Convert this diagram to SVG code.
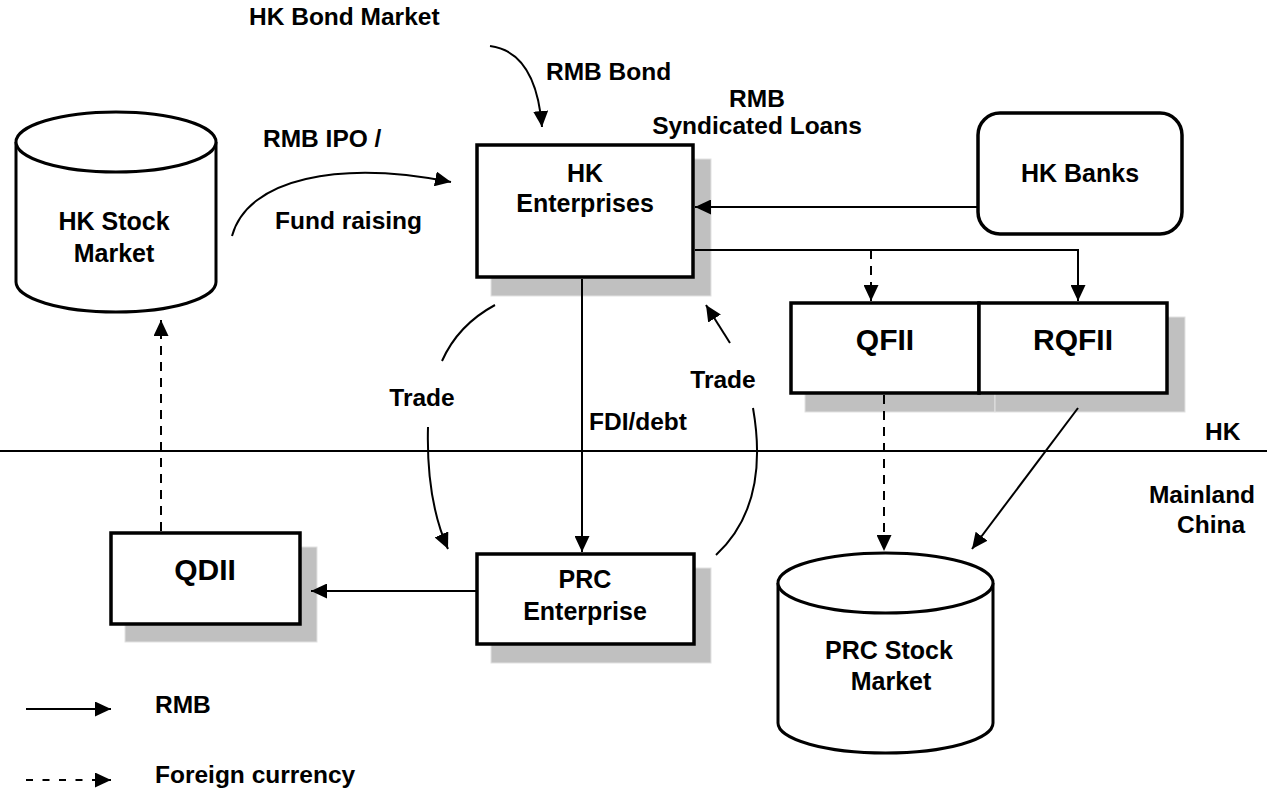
<svg xmlns="http://www.w3.org/2000/svg" width="1267" height="792" viewBox="0 0 1267 792">
<style>
text{font-family:"Liberation Sans",Arial,sans-serif;font-weight:bold;fill:#000}
.lb{font-size:24.5px}
.nl{font-size:25px;text-anchor:middle}
.big{font-size:30px;text-anchor:middle}
.box{fill:#fff;stroke:#000;stroke-width:3.5}
.sh{fill:#c0c0c0;stroke:#e2e2e2;stroke-width:1}
.c{fill:none;stroke:#000;stroke-width:2}
.d{stroke-dasharray:9,7}
</style>
<defs>
<marker id="ah" markerUnits="userSpaceOnUse" markerWidth="17" markerHeight="15" refX="16" refY="7.5" orient="auto">
<path d="M0,0 L16,7.5 L0,15 Z" fill="#000"/>
</marker>
</defs>
<rect width="1267" height="792" fill="#fff"/>

<line x1="0" y1="451" x2="1267" y2="451" stroke="#000" stroke-width="2"/>

<g id="hk-stock">
<path d="M16,142 L16,282 A100,30 0 0 0 216,282 L216,142" fill="#fff" stroke="#000" stroke-width="3"/>
<ellipse cx="116" cy="142" rx="100" ry="30" fill="#fff" stroke="#000" stroke-width="3"/>
<text class="nl" x="114" y="230">HK Stock</text>
<text class="nl" x="114" y="262">Market</text>
</g>

<g id="hk-enterprises">
<rect class="sh" x="491" y="159" width="220" height="137"/>
<rect class="box" x="477" y="145" width="216" height="132"/>
<text class="nl" x="585" y="182">HK</text>
<text class="nl" x="585" y="212">Enterprises</text>
</g>

<g id="hk-banks">
<rect class="box" x="978" y="113" width="204" height="121" rx="22"/>
<text class="nl" x="1080" y="182">HK Banks</text>
</g>

<g id="qfii">
<rect class="sh" x="805" y="317" width="190" height="95"/>
<rect class="box" x="791" y="303" width="188" height="90"/>
<text class="big" x="885" y="350">QFII</text>
</g>

<g id="rqfii">
<rect class="sh" x="995" y="317" width="190" height="95"/>
<rect class="box" x="979" y="303" width="188" height="90"/>
<text class="big" x="1073" y="350">RQFII</text>
</g>

<g id="qdii">
<rect class="sh" x="125" y="547" width="192" height="95"/>
<rect class="box" x="111" y="533" width="189" height="91"/>
<text class="big" x="205" y="580">QDII</text>
</g>

<g id="prc-enterprise">
<rect class="sh" x="491" y="568" width="220" height="95"/>
<rect class="box" x="477" y="554" width="217" height="90"/>
<text class="nl" x="585" y="588">PRC</text>
<text class="nl" x="585" y="620">Enterprise</text>
</g>

<g id="prc-stock">
<path d="M778,583 L778,723 A107.5,30 0 0 0 993,723 L993,583" fill="#fff" stroke="#000" stroke-width="3"/>
<ellipse cx="885.5" cy="583" rx="107.5" ry="30" fill="#fff" stroke="#000" stroke-width="3"/>
<text class="nl" x="889" y="659">PRC Stock</text>
<text class="nl" x="891" y="690">Market</text>
</g>

<g id="connectors">
<path class="c" d="M490,46 Q536,52 542,127" marker-end="url(#ah)"/>
<path class="c" d="M232,236 C248,178 340,160 451,182" marker-end="url(#ah)"/>
<path class="c" d="M978,207 L695,207" marker-end="url(#ah)"/>
<path class="c" d="M695,250 L1078,250 L1078,301" marker-end="url(#ah)"/>
<path class="c d" d="M871,250 L871,301" marker-end="url(#ah)"/>
<path class="c" d="M582,279 L582,552" marker-end="url(#ah)"/>
<path class="c" d="M477,591 L311,591" marker-end="url(#ah)"/>
<path class="c d" d="M161,531 L161,320" marker-end="url(#ah)"/>
<path class="c d" d="M884,395 L884,551" marker-end="url(#ah)"/>
<path class="c" d="M1078,408 L972,549" marker-end="url(#ah)"/>
<path class="c" d="M495,305 Q458,325 442,361"/>
<path class="c" d="M428,427 Q426,500 448,549" marker-end="url(#ah)"/>
<path class="c" d="M753,408 Q770,505 716,555"/>
<path class="c" d="M730,343 L706,305" marker-end="url(#ah)"/>
</g>

<g id="labels">
<text class="lb" x="249" y="25">HK Bond Market</text>
<text class="lb" x="546" y="80">RMB Bond</text>
<text class="lb" x="263" y="147">RMB IPO /</text>
<text class="lb" x="275" y="229">Fund raising</text>
<text class="lb" x="757" y="107" text-anchor="middle">RMB</text>
<text class="lb" x="757" y="134" text-anchor="middle">Syndicated Loans</text>
<text class="lb" x="422" y="406" text-anchor="middle">Trade</text>
<text class="lb" x="723" y="388" text-anchor="middle">Trade</text>
<text class="lb" x="589" y="430">FDI/debt</text>
<text class="lb" x="1205" y="440">HK</text>
<text class="lb" x="1202" y="503" text-anchor="middle">Mainland</text>
<text class="lb" x="1211" y="533" text-anchor="middle">China</text>
</g>

<g id="legend">
<line class="c" x1="26" y1="709" x2="111" y2="709" marker-end="url(#ah)"/>
<line class="c" x1="26" y1="780" x2="111" y2="780" stroke-dasharray="7,9.5" marker-end="url(#ah)"/>
<text class="lb" x="155" y="713">RMB</text>
<text class="lb" x="155" y="783">Foreign currency</text>
</g>
</svg>
